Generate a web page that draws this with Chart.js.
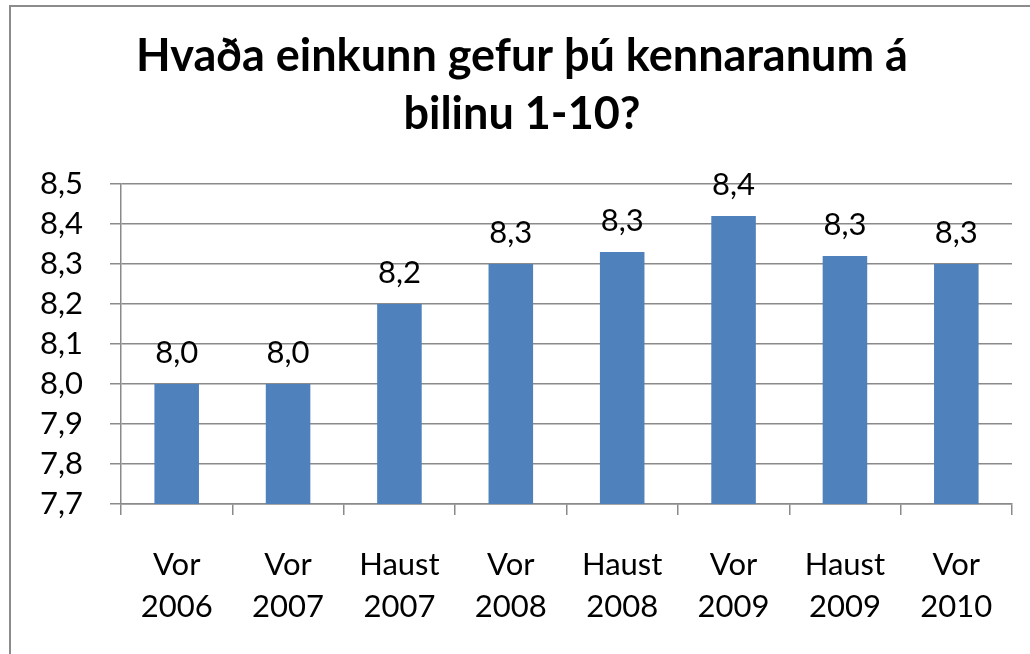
<!DOCTYPE html>
<html lang="is">
<head>
<meta charset="utf-8">
<title>Hvaða einkunn gefur þú kennaranum á bilinu 1-10?</title>
<script src="https://cdn.jsdelivr.net/npm/chart.js@4/dist/chart.umd.min.js"></script>
<style>
  html, body { margin: 0; padding: 0; background: #fff; overflow: hidden; }
  #frame {
    position: absolute; left: 9px; top: 5px; right: -10px; bottom: -10px;
    border-left: 2px solid #8c8c8c; border-top: 2px solid #8c8c8c;
  }
  #wrap { position: absolute; left: 0; top: 0; width: 1030px; height: 654px; }
</style>
</head>
<body>
<div id="frame"></div>
<div id="wrap"><canvas id="chart"></canvas></div>
<script>
// data
const categories = [
  ["Vor", "2006"], ["Vor", "2007"], ["Haust", "2007"], ["Vor", "2008"],
  ["Haust", "2008"], ["Vor", "2009"], ["Haust", "2009"], ["Vor", "2010"],
];
const scores = [8.0, 8.0, 8.2, 8.3, 8.33, 8.42, 8.32, 8.3];
const yMin = 7.7;
const yMax = 8.5;
const yStep = 0.1;
const titleLines = ["Hvaða einkunn gefur þú kennaranum á", "bilinu 1-10?"];

const FONT = "Lato, 'Open Sans', sans-serif";
const GRID = "#8a8a8a";

// comma decimal, one digit, like the original
function fmt(v) {
  return Number(v).toFixed(1).replace(".", ",");
}

// value labels above each bar
const barLabels = {
  id: "barLabels",
  afterDatasetsDraw(chart) {
    const ctx = chart.ctx;
    const meta = chart.getDatasetMeta(0);
    ctx.save();
    ctx.font = "31px " + FONT;
    ctx.fillStyle = "#000";
    ctx.textAlign = "center";
    ctx.textBaseline = "alphabetic";
    meta.data.forEach((bar, i) => {
      ctx.fillText(fmt(scores[i]), bar.x, bar.y - 21);
    });
    ctx.restore();
  },
};

new Chart(document.getElementById("chart"), {
  type: "bar",
  data: {
    labels: categories,
    datasets: [{
      data: scores,
      backgroundColor: "#4f81bd",
      borderWidth: 0,
      categoryPercentage: 1,
      barPercentage: 0.4,
    }],
  },
  options: {
    responsive: true,
    maintainAspectRatio: false,
    animation: false,
    // left padding only moves the title centre; y axis width below makes up for it
    layout: { padding: { left: 32, right: 18, top: 0, bottom: 0 } },
    plugins: {
      legend: { display: false },
      tooltip: { enabled: false },
      title: {
        display: true,
        text: titleLines,
        color: "#000",
        font: { family: FONT, size: 45, weight: "bold", lineHeight: 1.29 },
        padding: { top: 27, bottom: 41 },
      },
    },
    scales: {
      x: {
        grid: { offset: true, drawOnChartArea: false, drawTicks: true, tickLength: 11, color: GRID, lineWidth: 1.5 },
        border: { color: GRID, width: 1.5 },
        ticks: { color: "#000", padding: 29, maxRotation: 0, font: { family: FONT, size: 31, lineHeight: 1.36 } },
        afterFit(scale) { scale.height = 150; },
      },
      y: {
        min: yMin,
        max: yMax,
        grid: { color: GRID, lineWidth: 1.5, tickLength: 11 },
        border: { color: GRID, width: 1.5 },
        ticks: {
          stepSize: yStep,
          autoSkip: false,
          color: "#000",
          padding: 27,
          font: { family: FONT, size: 31 },
          callback: (v) => fmt(v),
        },
        afterFit(scale) { scale.width = 89; },
      },
    },
  },
  plugins: [barLabels],
});
</script>
</body>
</html>
